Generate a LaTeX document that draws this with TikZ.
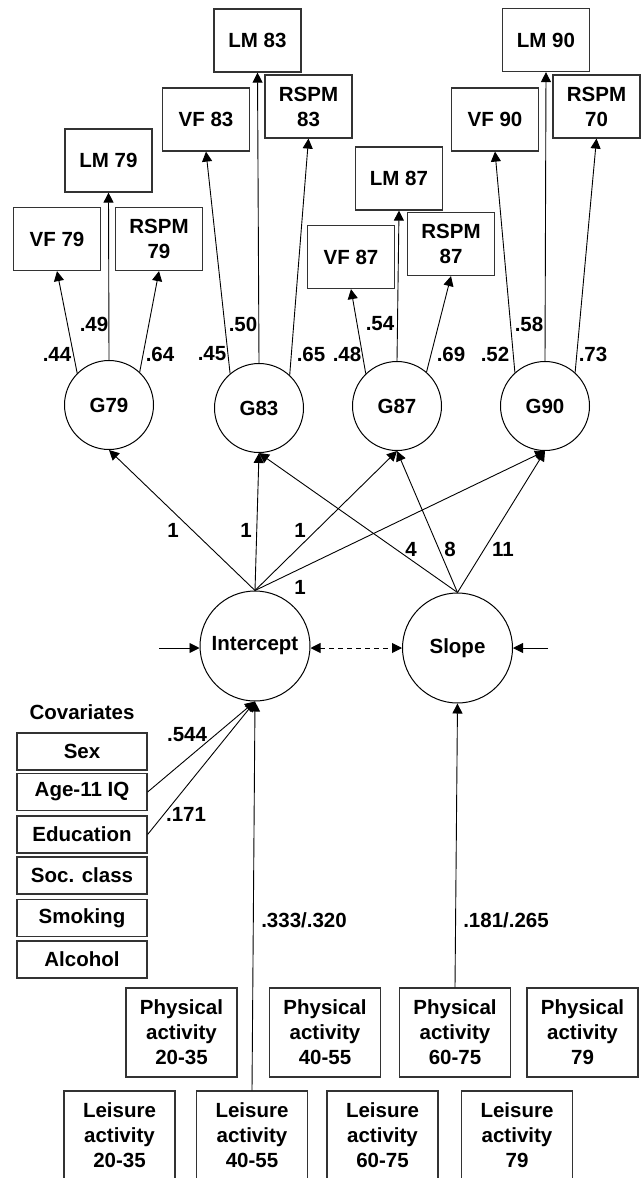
\documentclass[tikz,border=0pt]{standalone}
\usepackage{fontspec}
\setmainfont{Liberation Sans}
\usetikzlibrary{arrows.meta}
\newcommand\lblfont{\fontsize{20.5}{25}\selectfont\bfseries}
\tikzset{
  obs/.style={draw=black!80, line width=1.2pt, minimum width=87pt, minimum height=63pt, inner sep=0pt, align=center, font=\lblfont},
  cov/.style={obs, minimum width=130pt, minimum height=37pt},
  act/.style={obs, minimum width=111pt, minimum height=89pt},
  lat/.style={draw=black, line width=1pt, circle, inner sep=0pt, font=\lblfont},
  gcirc/.style={lat, minimum size=89pt},
  bigcirc/.style={lat, minimum size=110pt},
  conn/.style={draw=black, line width=0.9pt, -{Triangle[length=10pt,width=10pt]}},
  dconn/.style={draw=black, line width=0.9pt, dash pattern=on 5pt off 4pt, {Triangle[length=10pt,width=10pt]}-{Triangle[length=10pt,width=10pt]}},
  lab/.style={inner sep=0pt, font=\lblfont}
}
\begin{document}
\begin{tikzpicture}[x=1pt,y=-1pt]
\useasboundingbox (0,0) rectangle (643,1178);
% indicator boxes
\node[obs] (LM83) at (257.5,40.5) {LM 83};
\node[obs] (LM90) at (546,40) {LM 90};
\node[obs] (VF83) at (206,119.5) {VF 83};
\node[obs] (RS83) at (308.5,106.5) {RSPM\\83};
\node[obs] (VF90) at (495,119.5) {VF 90};
\node[obs] (RS70) at (596.5,106.5) {RSPM\\70};
\node[obs] (LM79) at (108.5,160.5) {LM 79};
\node[obs] (LM87) at (399,178.5) {LM 87};
\node[obs] (VF79) at (57,239) {VF 79};
\node[obs] (RS79) at (159,239) {RSPM\\79};
\node[obs] (VF87) at (351,257) {VF 87};
\node[obs] (RS87) at (451,244) {RSPM\\87};
% g factors
\node[gcirc] (G79) at (109,405) {G79};
\node[gcirc] (G83) at (259,408) {G83};
\node[gcirc] (G87) at (397,406) {G87};
\node[gcirc] (G90) at (545,406) {G90};
% growth factors
\node[bigcirc] (Int) at (255,646) {Intercept};
\node[bigcirc] (Slo) at (457.5,648) {Slope};
% loadings
\draw[conn] (G79.135) -- (VF79.south);
\draw[conn] (G79.north) -- (LM79.south);
\draw[conn] (G79.47) -- (RS79.south);
\draw[conn] (G83.130) -- (VF83.south);
\draw[conn] (G83.north) -- (LM83.south);
\draw[conn] (G83.47) -- (RS83.south);
\draw[conn] (G87.134) -- (VF87.south);
\draw[conn] (G87.north) -- (LM87.south);
\draw[conn] (G87.49) -- (RS87.south);
\draw[conn] (G90.132) -- (VF90.south);
\draw[conn] (G90.north) -- (LM90.south);
\draw[conn] (G90.48) -- (RS70.south);
\node[lab] (l44) at (57,354) {.44};
\node[lab] (l49) at (94,324) {.49};
\node[lab] (l64) at (160,354) {.64};
\node[lab] (l45) at (212,354) {.45};
\node[lab] (l50) at (243,324) {.50};
\node[lab] (l65) at (311,354) {.65};
\node[lab] (l48) at (347,354) {.48};
\node[lab] (l54) at (380,324) {.54};
\node[lab] (l69) at (451,354) {.69};
\node[lab] (l52) at (495,354) {.52};
\node[lab] (l58) at (529,324) {.58};
\node[lab] (l73) at (593,354) {.73};
% growth paths
\draw[conn] (Int.north) -- (G79.south);
\draw[conn] (Int.north) -- (G83.south);
\draw[conn] (Int.north) -- (G87.south);
\draw[conn] (Int.north) -- (G90.south);
\draw[conn] (Slo.north) -- (G83.south);
\draw[conn] (Slo.north) -- (G87.south);
\draw[conn] (Slo.north) -- (G90.south);
\node[lab] (i1) at (173,530) {1};
\node[lab] (i2) at (246,530) {1};
\node[lab] (i3) at (300,530) {1};
\node[lab] (i4) at (300,587) {1};
\node[lab] (s4) at (411,549) {4};
\node[lab] (s8) at (450,549) {8};
\node[lab] (s11) at (503,549) {11};
% disturbances and covariance
\coordinate (dInt) at (159,648);
\coordinate (dSlo) at (548,648);
\draw[conn] (dInt) -- (Int.west |- dInt);
\draw[conn] (dSlo) -- (Slo.east |- dSlo);
\draw[dconn] (Int.east |- dInt) -- (Slo.west |- dInt);
% covariates
\node[lab] (covt) at (82,712) {Covariates};
\node[cov] (Sex) at (82,751.5) {Sex};
\node[cov] (IQ) at (82,792) {Age-11 IQ};
\node[cov] (Edu) at (82,834.5) {Education};
\node[cov] (Soc) at (82,875.5) {Soc. class};
\node[cov] (Smo) at (82,918) {Smoking};
\node[cov] (Alc) at (82,959.5) {Alcohol};
\draw[conn] (IQ.east) -- (Int.south);
\draw[conn] (Edu.east) -- (Int.south);
\node[lab] (c544) at (187,735) {.544};
\node[lab] (c171) at (186,814) {.171};
% activity boxes
\node[act] (PA1) at (181.5,1032.5) {Physical\\activity\\20-35};
\node[act] (PA2) at (325,1032.5) {Physical\\activity\\40-55};
\node[act] (PA3) at (455,1032.5) {Physical\\activity\\60-75};
\node[act] (PA4) at (582.5,1032.5) {Physical\\activity\\79};
\node[act] (LA1) at (119.5,1135.5) {Leisure\\activity\\20-35};
\node[act] (LA2) at (252,1135.5) {Leisure\\activity\\40-55};
\node[act] (LA3) at (382.5,1135.5) {Leisure\\activity\\60-75};
\node[act] (LA4) at (517,1135.5) {Leisure\\activity\\79};
\draw[conn] (LA2.north) -- (Int.south);
\draw[conn] (PA3.north) -- (Slo.south);
\node[lab] (a1) at (304,920) {.333/.320};
\node[lab] (a2) at (506,920) {.181/.265};
\end{tikzpicture}
\end{document}
